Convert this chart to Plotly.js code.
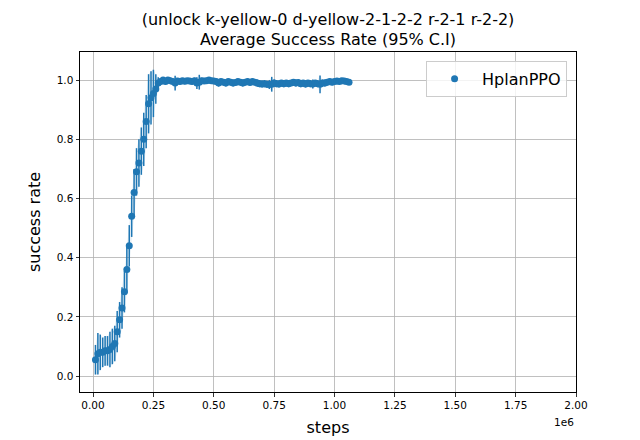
<!DOCTYPE html>
<html>
<head>
<meta charset="utf-8">
<script src="https://cdn.plot.ly/plotly-3.0.1.min.js"></script>
<style>html,body{margin:0;padding:0;background:#fff}#chart{width:640px;height:440px}</style>
</head>
<body>
<div id="chart"></div>
<script>
const seriesName = "HplanPPO";
const steps = [
 10000,20000,30000,40000,50000,60000,70000,80000,90000,100000,
 110000,120000,130000,140000,150000,160000,170000,180000,190000,200000,
 210000,220000,230000,240000,250000,260000,270000,280000,290000,300000,
 310000,320000,330000,340000,350000,360000,370000,380000,390000,400000,
 410000,420000,430000,440000,450000,460000,470000,480000,490000,500000,
 510000,520000,530000,540000,550000,560000,570000,580000,590000,600000,
 610000,620000,630000,640000,650000,660000,670000,680000,690000,700000,
 710000,720000,730000,740000,750000,760000,770000,780000,790000,800000,
 810000,820000,830000,840000,850000,860000,870000,880000,890000,900000,
 910000,920000,930000,940000,950000,960000,970000,980000,990000,1000000,
 1010000,1020000,1030000,1040000,1050000,1060000
];
const successRate = [
 0.055,0.075,0.08,0.08,0.085,0.085,0.09,0.10,0.11,0.15,
 0.19,0.23,0.285,0.36,0.44,0.54,0.62,0.69,0.72,0.76,
 0.80,0.86,0.92,0.94,0.955,0.97,0.99,0.995,1.0,0.995,
 1.0,0.998,0.995,0.99,0.997,0.995,0.998,0.996,0.998,0.997,
 0.995,0.998,0.99,0.993,0.998,0.997,0.998,1.0,0.998,0.997,
 0.995,0.99,0.995,0.993,0.99,0.995,0.993,0.99,0.992,0.995,
 0.993,0.99,0.993,0.995,0.992,0.995,0.993,0.99,0.988,0.987,
 0.988,0.986,0.985,0.986,0.99,0.988,0.987,0.99,0.988,0.99,
 0.988,0.99,0.993,0.99,0.992,0.988,0.99,0.987,0.99,0.988,
 0.987,0.99,0.988,0.986,0.99,0.99,0.993,0.995,0.993,0.995,
 0.997,0.995,0.998,0.997,0.995,0.993
];
const ci95 = [
 0.05,0.07,0.06,0.05,0.05,0.05,0.06,0.06,0.06,0.07,
 0.06,0.07,0.07,0.08,0.07,0.07,0.08,0.08,0.08,0.08,
 0.09,0.09,0.10,0.09,0.08,0.05,0.02,0.01,0.01,0.01,
 0.008,0.01,0.01,0.025,0.01,0.01,0.008,0.01,0.008,0.01,
 0.01,0.01,0.02,0.025,0.01,0.01,0.008,0.008,0.008,0.01,
 0.01,0.012,0.01,0.01,0.012,0.01,0.01,0.012,0.01,0.01,
 0.01,0.012,0.01,0.01,0.01,0.01,0.01,0.012,0.012,0.012,
 0.012,0.012,0.015,0.025,0.012,0.012,0.012,0.01,0.012,0.01,
 0.012,0.01,0.01,0.012,0.01,0.012,0.01,0.012,0.01,0.012,
 0.015,0.01,0.012,0.03,0.012,0.012,0.01,0.01,0.01,0.01,
 0.008,0.008,0.008,0.008,0.008,0.008
];
const xTickVals = [0,250000,500000,750000,1000000,1250000,1500000,1750000,2000000];
const xTickText = ["0.00","0.25","0.50","0.75","1.00","1.25","1.50","1.75","2.00"];
const yTickVals = [0,0.2,0.4,0.6,0.8,1.0];
const yTickText = ["0.0","0.2","0.4","0.6","0.8","1.0"];

const blue = "#1f77b4";
const upper = successRate.map((v,i)=>v+ci95[i]);
const lower = successRate.map((v,i)=>v-ci95[i]);

const traces = [
 {x: steps, y: lower, mode: "lines", line:{width:0, color:"rgba(31,119,180,0)"}, showlegend:false, hoverinfo:"skip"},
 {x: steps, y: upper, mode: "lines", line:{width:0, color:"rgba(31,119,180,0)"}, fill:"tonexty", fillcolor:"rgba(31,119,180,0.1)", showlegend:false, hoverinfo:"skip"},
 {x: steps, y: successRate, name: seriesName, mode: "markers", type:"scatter",
  marker:{color: blue, size:7},
  error_y:{type:"data", array: ci95, visible:true, color: blue, thickness:1.5, width:0}}
];

const axisCommon = {
 showline:true, mirror:true, linecolor:"#000", linewidth:1,
 ticks:"outside", ticklen:3.5, tickcolor:"#000", tickwidth:0.8,
 showgrid:true, gridcolor:"#b0b0b0", gridwidth:0.8, zeroline:false,
 tickfont:{family:"DejaVu Sans", size:10.5, color:"#000"}
};

const layout = {
 width:640, height:440,
 margin:{l:80, r:64, t:52, b:48},
 paper_bgcolor:"#fff", plot_bgcolor:"#fff",
 font:{family:"DejaVu Sans", color:"#000"},
 title:{text:"(unlock k-yellow-0 d-yellow-2-1-2-2 r-2-1 r-2-2)<br>Average Success Rate (95% C.I)",
  font:{family:"DejaVu Sans", size:16, color:"#000"}, x:0.5, xref:"paper", y:0.944, yref:"container", yanchor:"middle"},
 xaxis: Object.assign({}, axisCommon, {range:[-54000, 2000000], tickvals:xTickVals, ticktext:xTickText,
  title:{text:"steps", font:{family:"DejaVu Sans", size:16, color:"#000"}, standoff:11}}),
 yaxis: Object.assign({}, axisCommon, {range:[-0.054, 1.095], tickvals:yTickVals, ticktext:yTickText,
  title:{text:"success rate", font:{family:"DejaVu Sans", size:16, color:"#000"}, standoff:12}}),
 legend:{x:0.982, y:0.974, xanchor:"right", yanchor:"top", bgcolor:"rgba(255,255,255,0.8)",
  bordercolor:"#cccccc", borderwidth:1, itemwidth:45, font:{family:"DejaVu Sans", size:16, color:"#000"}},
 annotations:[{text:"1e6", xref:"paper", yref:"paper", x:1, y:-0.065, xanchor:"right", yanchor:"top",
  showarrow:false, font:{family:"DejaVu Sans", size:10.5, color:"#000"}}],
 showlegend:true
};

Plotly.newPlot("chart", traces, layout, {staticPlot:true, displayModeBar:false});
</script>
</body>
</html>
